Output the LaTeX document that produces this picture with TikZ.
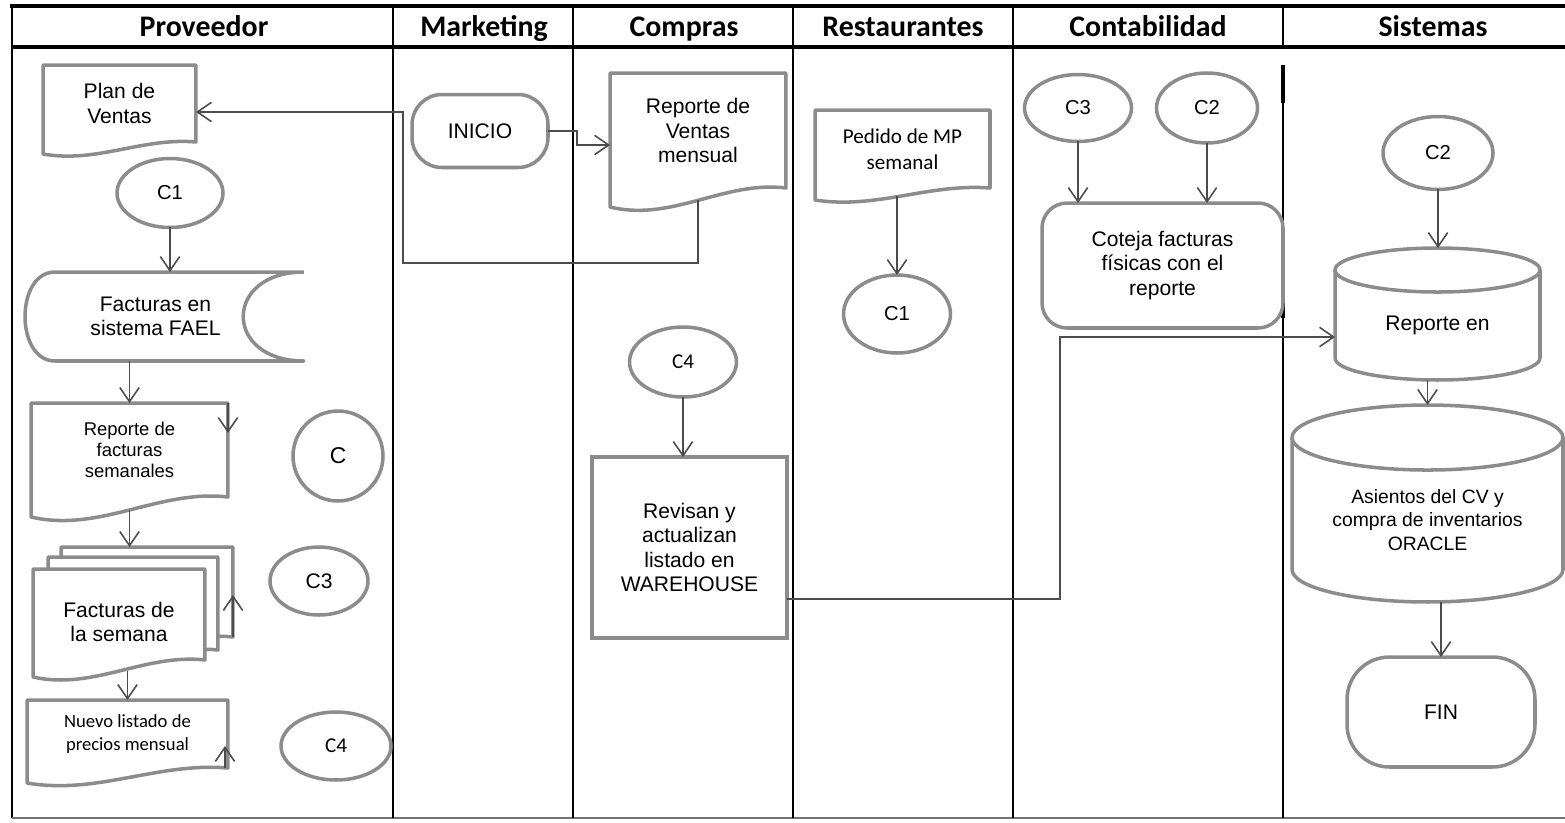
\documentclass[tikz,border=0pt]{standalone}
\usepackage{fontspec}
\setmainfont{Liberation Sans}
\newfontfamily\calibri{Carlito}
\usepackage{tikz}
\usetikzlibrary{arrows.meta,shapes.geometric,positioning,calc,backgrounds}

\newcommand{\docline}[3][]{%
  \draw[outline,#1] (#2.south east) -- (#2.north east) -- (#2.north west) -- ($(#2.south west)+(0,#3)$)
    .. controls ($(#2.south west)!0.35!(#2.south east)+(0,1.8*#3)$) and ($(#2.south west)!0.65!(#2.south east)+(0,-0.4*#3)$) .. (#2.south east) -- cycle;}
\newcommand{\cylline}[3]{%
  \draw[outline] (#1.north) ellipse[x radius=#2,y radius=#3];
  \draw[outline] (#1.north west) -- ([yshift=#3]#1.south west) arc[start angle=180,end angle=360,x radius=#2,y radius=#3] -- (#1.north east);}

\begin{document}
\begin{tikzpicture}
[x=0.02cm,y=-0.02cm,
txt/.style={align=center,inner sep=0pt,outer sep=0pt,font=\fontsize{12}{13.8}\selectfont},
conn/.style={txt,ellipse,draw=black!45,line width=2pt,fill=white,font=\fontsize{11.5}{13}\selectfont},
proc/.style={txt,rectangle,draw=black!45,line width=2pt},
term/.style={proc,rounded corners=#1},
outline/.style={draw=black!45,line width=2pt,line join=round},
flow/.style={draw=black!70,line width=0.9pt,-{Straight Barb[length=8pt,width=11pt]}},
head/.style={anchor=base,font=\calibri\bfseries\fontsize{17}{19}\selectfont},
lane/.style={line width=1.2pt}]
\useasboundingbox (0,0) rectangle (1565,822);

\draw[line width=2.2pt] (10,6) -- (1565,6);
\draw[line width=2.5pt] (12,47) -- (1565,47);
\draw[line width=1.6pt] (12,6) -- (12,818);
\draw[black!55,line width=1.2pt] (12,818) -- (1565,818);
\foreach \x in {393,573,793,1013}
  \draw[lane] (\x,6) -- (\x,818);
\draw[lane] (1283,6) -- (1283,47);
\draw[lane] (1283,65) -- (1283,818);
\draw[line width=2.6pt] (1283,65) -- (1283,103);
\draw[line width=2.6pt] (1283,287) -- (1283,318);

\node[head] (hprov) at (204,36) {Proveedor};
\node[head] (hmark) at (484,36) {Marketing};
\node[head] (hcomp) at (684,36) {Compras};
\node[head] (hrest) at (903,36) {Restaurantes};
\node[head] (hcont) at (1148,36) {Contabilidad};
\node[head] (hsist) at (1433,36) {Sistemas};

\node[txt,minimum width=3.06cm,minimum height=1.54cm] (planventas) at (119.5,103.5) {Plan de\\Ventas};
\docline{planventas}{12}
\node[conn,minimum width=2.12cm,minimum height=1.38cm,font=\fontsize{11.5}{13}\selectfont] (c1p) at (170,193) {C1};
\node[txt,minimum width=5.58cm,minimum height=1.78cm] (fael) at (164.5,316.5) {Facturas en\hspace*{0.36cm}\\sistema FAEL\hspace*{0.36cm}};
\draw[outline] (fael.north east) -- ($(fael.north west)+(30,0)$) .. controls ($(fael.north west)+(-10,0)$) and ($(fael.south west)+(-10,0)$) .. ($(fael.south west)+(30,0)$) -- (fael.south east) .. controls ($(fael.south east)+(-81,0)$) and ($(fael.north east)+(-81,0)$) .. (fael.north east);
\node[txt,minimum width=3.94cm,minimum height=1.88cm,font=\fontsize{10.5}{11.9}\selectfont] (repfact) at (129.5,450) {Reporte de\\facturas\\semanales};
\docline{repfact}{20}
\node[conn,circle,minimum size=1.8cm,font=\fontsize{13}{15}\selectfont] (cp) at (338,456) {C};
\node[txt,minimum width=3.44cm,minimum height=1.8cm] (facsem3) at (147,592) {};
\node[txt,minimum width=3.4cm,minimum height=1.86cm] (facsem2) at (133,603.5) {};
\node[txt,minimum width=3.44cm,minimum height=1.82cm,font=\fontsize{12}{14.2}\selectfont] (facsem) at (119,614.5) {\raisebox{-0.2cm}[\height][\depth]{\begin{tabular}{@{}c@{}}Facturas de\\la semana\end{tabular}}};
\begin{scope}[on background layer]
\docline[fill=white]{facsem3}{16}
\docline[fill=white]{facsem2}{16}
\docline[fill=white]{facsem}{17}
\end{scope}
\node[conn,minimum width=1.96cm,minimum height=1.36cm,font=\fontsize{12}{14}\selectfont] (c3p) at (319,581) {C3};
\node[txt,minimum width=4.02cm,minimum height=1.36cm,font=\calibri\fontsize{10.6}{13}\selectfont] (nuevo) at (127.5,734) {Nuevo listado de\\precios mensual};
\docline{nuevo}{15}
\node[conn,minimum width=2.2cm,minimum height=1.36cm,font=\calibri\fontsize{12}{14}\selectfont] (c4p) at (336,746) {C4};

\node[term=0.6cm,minimum width=2.72cm,minimum height=1.46cm] (inicio) at (480,131) {INICIO};

\node[txt,minimum width=3.52cm,minimum height=2.3cm] (repventas) at (698,130.5) {Reporte de\\Ventas\\mensual};
\docline{repventas}{19}
\node[conn,minimum width=2.14cm,minimum height=1.4cm,font=\calibri\fontsize{12}{14}\selectfont] (c4c) at (683,362) {C4};
\node[proc,minimum width=3.9cm,minimum height=3.62cm] (revisan) at (689.5,547.5) {Revisan y\\actualizan\\listado en\\WAREHOUSE};

\node[txt,minimum width=3.5cm,minimum height=1.56cm,font=\calibri\fontsize{12}{14.7}\selectfont] (pedido) at (902.5,149) {Pedido de MP\\semanal};
\docline{pedido}{12}
\node[conn,minimum width=2.14cm,minimum height=1.56cm] (c1r) at (897,314) {C1};

\node[conn,minimum width=2.14cm,minimum height=1.34cm] (c3c) at (1078,108) {C3};
\node[conn,minimum width=2.02cm,minimum height=1.4cm] (c2c) at (1207,108) {C2};
\node[term=0.5cm,minimum width=4.82cm,minimum height=2.5cm] (coteja) at (1162.5,265.5) {Coteja facturas\\físicas con el\\reporte};

\node[conn,minimum width=2.2cm,minimum height=1.46cm] (c2s) at (1438,153) {C2};
\node[txt,minimum width=4.1cm,minimum height=2.2cm] (repsis) at (1437.5,325) {Reporte en};
\cylline{repsis}{2.05cm}{0.44cm}
\node[txt,minimum width=5.42cm,minimum height=3.29cm,font=\fontsize{11}{13.4}\selectfont] (asientos) at (1427.5,519.75) {Asientos del CV y\\compra de inventarios\\ORACLE};
\cylline{asientos}{2.71cm}{0.65cm}
\node[term=0.85cm,minimum width=3.76cm,minimum height=2.2cm] (fin) at (1441,712) {FIN};

\coordinate (bendA) at (403,263);
\coordinate (bendB) at (1060,337);
\draw[flow] (inicio.east) -- ++(29,0) |- ([yshift=-0.29cm]repventas.west);
\draw[flow] ([yshift=-0.25cm]repventas.south) |- (bendA) |- ([yshift=-0.17cm]planventas.east);
\draw[flow] (c1p.south) -- (c1p.south |- fael.north);
\draw[flow] (fael.south -| repfact.north) -- (repfact.north);
\draw[flow] (repfact.north east) -- ++(0,30);
\draw[flow] ($(repfact.south)+(0,13)$) -- (repfact.south |- facsem3.north);
\draw[flow] (facsem3.south east) -- ++(0,-42);
\draw[flow] ($(facsem.south -| nuevo.north)+(0,11)$) -- (nuevo.north);
\draw[flow] ([xshift=-0.06cm]nuevo.south east) -- ++(0,-22);
\draw[flow] (c4c.south) -- (c4c.south |- revisan.north);
\draw[flow] ($(pedido.south -| c1r.north)+(0,8)$) -- (c1r.north);
\draw[flow] (c3c.south) -- (c3c.south |- coteja.north);
\draw[flow] (c2c.south) -- (c2c.south |- coteja.north);
\draw[flow] ([yshift=-1.03cm]revisan.east) -| (bendB) -- ([yshift=-0.24cm]repsis.west);
\draw[flow] (c2s.south) -- ($(c2s.south |- repsis.north)+(0,-22)$);
\draw[flow] (repsis.south -| asientos.north) -- ($(asientos.north)+(0,-32.5)$);
\draw[flow] (asientos.south -| fin.north) -- (fin.north);
\end{tikzpicture}
\end{document}
